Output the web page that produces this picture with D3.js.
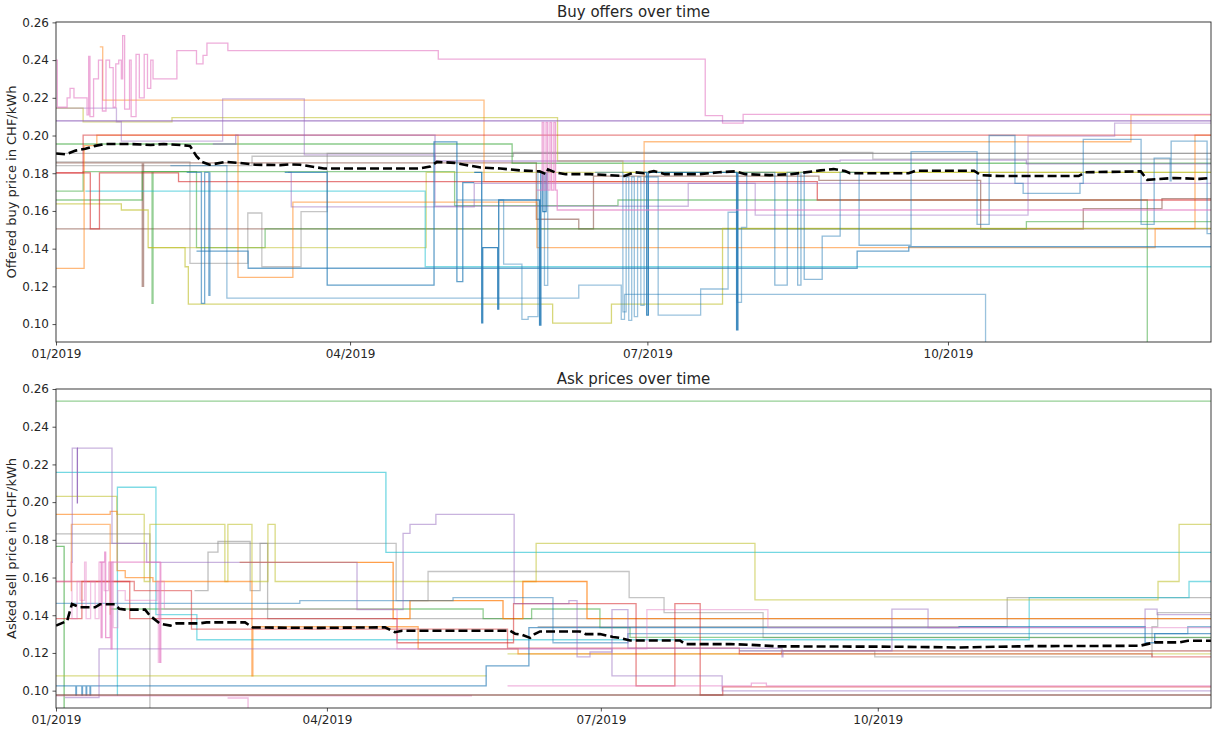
<!DOCTYPE html>
<html>
<head>
<meta charset="utf-8">
<script src="https://cdn.jsdelivr.net/npm/d3@7"></script>
<style>
  body { margin: 0; background: #fff; }
  text { font-family: "DejaVu Sans", sans-serif; fill: #262626; }
</style>
</head>
<body>
<svg id="chart" width="1212" height="732"></svg>
<script>
// ---- data: each series is a list of [days since 2019-01-01, price CHF/kWh] step changes ----
// a trailing null value means the offer ends there; otherwise it holds until the end of the period

// Buy offers
const buyPinkA = [[0,0.24],[0.4,0.215],[3.4,0.22],[4.3,0.225],[5.5,0.22],[9.5,0.211],[10,0.242],[10.4,0.21],[11.5,0.23],[13,0.24],[14.2,0.213],[15.3,0.24],[16.4,0.236],[17.5,0.215],[18.3,0.238],[19.2,0.24],[20,0.23],[20.4,0.253],[21,0.214],[22.5,0.24],[23,0.21],[24.5,0.243],[25.5,0.22],[27,0.243],[28,0.225],[29,0.24],[29.7,0.23],[37,0.245],[43,0.238],[45,0.2425],[46.2,0.249],[52.6,0.245],[117,0.2405],[198.7,0.2105],[204,0.2066],[210.3,0.2112]];
const buyPinkB = [[147,0.171],[148.8,0.207],[149.3,0.171],[150,0.207],[150.5,0.171],[151.2,0.207],[151.7,0.171],[152.4,0.207],[152.9,0.171],[153.4,0.1605]];
const buyPurpleA = [[0,0.2078]];
const buyPurpleB = [[0,0.2145],[18.5,0.2073],[20,0.197],[51,0.2194],[76,0.1897],[115,0.1897],[116,0.1625],[193.5,0.1746],[214,0.1578],[297.5,0.1997],[324,0.2066]];
const buyPurpleC = [[48,0.1955],[55,0.2002],[116,0.1865],[240,0.187],[297,0.185]];
const buyPurpleD = [[71,0.1805],[72,0.1622],[128,0.1746],[193.5,0.1746]];
const buyRedA = [[0,0.1802],[8.3,0.2002]];
const buyRedB = [[0,0.1802],[10.5,0.1505],[13.3,0.1802],[37.5,0.1755],[233,0.1658]];
const buyBrownA = [[0,0.1505],[164.5,0.1785],[233.5,0.1762],[283,0.1505],[314.4,0.1612],[338.5,0.1665]];
const buyBrownB = [[0,0.1855],[26.4,0.12],[26.8,0.1855],[147,0.1556],[160,0.1505]];
const buyOrangeA = [[0,0.1295],[8.6,0.1946],[12.5,0.2002],[55.7,0.1248],[72.5,0.1647],[147.2,0.1405],[336.4,0.1506],[348.6,0.2002]];
const buyOrangeB = [[13.4,0.247],[14.3,0.2188],[131,0.1755],[180,0.1967],[329,0.211]];
const buyOliveA = [[0,0.2145],[8.3,0.2072],[35.5,0.2095],[153.5,0.1865],[173.5,0.1805]];
const buyOliveB = [[0,0.1637],[20,0.1605],[28.2,0.1405],[39.5,0.1304],[40.5,0.1106],[152,0.1005],[170,0.1106],[204,0.1508]];
const buyOliveC = [[28.2,0.1405],[113.3,0.1805]];
const buyGreenA = [[0,0.1955],[139.6,0.1853]];
const buyGreenB = [[0,0.1658],[26.4,0.1808],[122,0.1628],[172,0.1658],[334,0.05]];
const buyGreenC = [[0,0.1705],[8.3,0.1808],[29.4,0.111],[29.7,0.1808],[43,0.1405],[64,0.1505],[297,0.1543]];
const buyCyanA = [[9,0.1705],[113,0.1304]];
const buyGrayA = [[0,0.186],[41,0.1322],[58.7,0.1589],[63,0.1304],[75,0.1596],[83,0.1905]];
const buyGrayB = [[0,0.1905]];
const buyGrayC = [[0,0.184],[60,0.189],[140,0.191],[250,0.1875]];
const buyBlueA = [[35,0.184],[52.3,0.1138],[160,0.1207],[173,0.1025],[174,0.1158],[284.5,0.05]];
const buyBlueB = [[70,0.1805],[83,0.1207],[115.7,0.1966],[122.7,0.1225],[124.5,0.175],[128,0.175],[128.1,null]];
const buyBlueC = [[128,0.1805],[130.3,0.1007],[130.6,0.1405],[135.2,0.108],[135.5,0.1658],[148,0.0995],[148.4,0.1805],[149,0.1596],[150,0.1805],[150.1,null]];
const buyBlueD = [[122.7,0.1658],[137,0.1318],[142.6,0.1025],[144.5,0.104],[147.5,0.1805],[149.5,0.1205],[150.5,0.1805],[150.6,null]];
const buyBlueE = [[165,0.1805],[173.5,0.1065],[174.5,0.178],[175.3,0.102],[176.2,0.178],[177,0.104],[178,0.178],[179,0.11],[180,0.178],[184.3,0.1048],[197.3,0.1186],[205.7,0.1593],[208.5,0.1115],[209.8,0.1513],[211.4,0.1805],[211.5,null]];
const buyBlueF = [[178,0.1805],[180.8,0.1048],[181.3,0.1805],[208.3,0.097],[208.7,0.1805],[208.8,null]];
const buyBlueG = [[210,0.1805],[220,0.1207],[223.8,0.1805],[227,0.1207],[228,0.1805],[229,0.1237],[234.5,0.1467],[240,0.1805],[245.8,0.1418],[261.7,0.1915],[281.9,0.1529],[285.6,0.2],[293.5,0.1746],[296,0.1693],[313.4,0.1746],[314.4,0.198],[332.1,0.1529],[336.1,0.188],[341,0.176],[341.3,0.197],[352.3,0.148]];
const buyBlueH = [[43,0.1387],[58.8,0.1296],[245.2,0.1387],[261,0.141]];
const buyBlueI = [[40,0.1805],[44.5,0.111],[45.5,0.1805],[46.8,0.1153],[47.1,0.1805],[47.2,null]];
const buyMean = [[0,0.1905],[3,0.19],[6,0.192],[9,0.193],[12,0.1945],[15,0.1955],[22.6,0.1955],[29,0.195],[33,0.1955],[38,0.195],[41,0.1945],[43,0.189],[44.7,0.186],[47,0.1845],[52,0.186],[56,0.1855],[61,0.1845],[68.6,0.1843],[71.6,0.1847],[74.7,0.1845],[82,0.1825],[111,0.1825],[114.5,0.1835],[116.6,0.186],[122,0.1855],[125,0.1845],[130,0.183],[136,0.1825],[142,0.1815],[148,0.181],[150,0.1795],[150.6,0.182],[152.7,0.1805],[156,0.1795],[163.5,0.1795],[174,0.1785],[177,0.1805],[180,0.18],[183,0.1812],[186.4,0.1795],[197,0.1795],[203,0.1805],[208,0.181],[211,0.1795],[218.5,0.179],[225,0.1795],[234,0.1815],[238,0.1822],[241.5,0.1812],[243,0.18],[261,0.18],[263,0.1813],[281,0.1813],[283,0.179],[289,0.1785],[313,0.1785],[315,0.1805],[332,0.181],[334,0.1765],[342.5,0.1775],[350,0.177],[353.5,0.1775]];

// Ask prices
const askGreenA = [[0,0.2536]];
const askGreenB = [[0,0.1765],[2.7,0.05]];
const askGreenC = [[18,0.1433],[141.9,0.1382],[158,0.1433],[180.7,0.1334],[190.7,0.1283]];
const askCyanA = [[0,0.2158],[109.6,0.1733]];
const askCyanB = [[20.3,0.0977],[20.4,0.2079],[33.2,0.1403],[46.8,0.127],[323.3,0.1493],[376.4,0.1579]];
const askPurpleA = [[5.3,0.168],[5.4,0.2286],[18.6,0.1781],[30.1,0.168],[100,0.143],[115.3,0.1834],[117.6,0.1882],[126.2,0.1935],[152.2,0.1462],[170.4,0.1477],[173.1,0.1179],[177.4,0.1205],[184.7,0.143],[190,0.1225],[241.2,0.1211]];
const askPurpleB = [[7.0,0.2286],[7.1,0.1993],[7.2,null]];
const askPurpleC = [[3,0.0963],[14.3,0.1222],[60,0.1222],[184.7,0.1078],[221.3,0.0999]];
const askPurpleD = [[227,0.1211],[241.2,0.1179],[241.5,0.1211],[277.7,0.1432],[289.7,0.1334],[361.8,0.1432],[365.8,0.1403]];
const askOliveA = [[0,0.2031],[20.2,0.1935],[29.3,0.1579],[31.2,0.1882],[56.1,0.1579],[57.1,0.1882],[65.1,0.1579],[70.4,0.1882],[72.8,0.1579],[159.5,0.1781],[232.2,0.1481],[366.1,0.1579],[373.1,0.1882]];
const askOliveB = [[0,0.1078],[143,0.1078],[143.1,null]];
const askOliveC = [[150,0.1195]];
const askOrangeA = [[0,0.1935],[18,0.1951],[20.3,0.1637],[23,0.16],[32.2,0.1579],[65.1,0.1078],[65.4,0.1339],[120.3,0.1222],[153.5,0.1195],[241,0.1211]];
const askOrangeB = [[4.9,0.1531],[5.1,0.1882],[18,0.1403],[18.2,null]];
const askOrangeC = [[61,0.168],[112,0.1382],[117.6,0.1477],[148.5,0.1382],[155.1,0.1579],[176.4,0.1382]];
const askGrayA = [[0,0.1832],[31.2,0.05]];
const askGrayB = [[0,0.1781],[113,0.1477],[123.6,0.1632],[190.4,0.1493],[202,0.1414],[234.9,0.1281]];
const askGrayC = [[160,0.1339],[316,0.1493]];
const askGrayD = [[227,0.1211],[272,0.1179],[364.1,0.1339],[366,0.1414]];
const askGrayE = [[46,0.1531],[50.5,0.1735],[53.8,0.1791],[64.5,0.1531],[67.8,0.1781],[70.3,0.1382]];
const askBlueA = [[0,0.1463],[81,0.1477],[131.9,0.1493],[165.1,0.1254],[190,0.1302],[359,0.1302],[376,0.1339]];
const askBlueB = [[0,0.1025],[6.6,0.0977],[6.8,0.1025],[8.6,0.0977],[8.8,0.1025],[10,0.0977],[10.2,0.1025],[11.3,0.0977],[11.5,0.1025],[142.9,0.1131],[157.1,0.1334],[227,0.1334],[300,0.1339],[361.8,0.1254],[365,0.1302]];
const askBrownA = [[0,0.0977]];
const askPinkA = [[0,0.0972],[138.2,0.0972],[138.3,null]];
const askPinkB = [[0,0.1579],[5,0.1682],[5.3,0.1382],[7,0.1579],[8,0.1479],[9.5,0.1682],[10,0.1382],[11.5,0.1579],[13,0.1382],[14.3,0.1682],[16,0.1531],[17.5,0.1682],[19,0.1334],[20.5,0.1531],[23,0.1479],[33.5,0.1579],[34,0.115],[34.3,0.1579],[36,0.1432],[60,0.1432],[113.3,0.1222],[138,0.1222],[196.3,0.143],[236.5,0.1334],[375.1,0.1334]];
const askPinkC = [[14.5,0.1682],[15,0.1281],[15.3,0.1682],[16.2,0.1735],[16.5,0.1281],[18,0.1682],[18.3,0.1222],[18.6,0.1682],[34.5,0.1682],[34.6,0.115],[34.8,0.1682],[35,null]];
const askPinkD = [[57,0.0961],[63.8,0.05]];
const askPinkE = [[150,0.1025],[231,0.104],[236,0.1025]];
const askRedA = [[0,0.1382],[8.6,0.1579],[24.5,0.1382],[113.3,0.1254],[152,0.1462],[192.7,0.1025],[205.6,0.1462],[214,0.0977],[221.5,0.102]];
const askRedB = [[0,0.1579],[26,0.1531],[45,0.1326],[113,0.1326],[150,0.1226],[227,0.1195],[364.1,0.1179]];
const askMean = [[0,0.1345],[3.7,0.137],[5.3,0.146],[8,0.1442],[13,0.1442],[14.6,0.1458],[19.6,0.1458],[21,0.1434],[23,0.143],[29.6,0.143],[31.2,0.1398],[34.6,0.1355],[38,0.1345],[40,0.1357],[47.8,0.1357],[50,0.1362],[62.8,0.1362],[65.4,0.1335],[87.7,0.1333],[109.3,0.1336],[112.6,0.131],[115,0.1318],[150.8,0.1318],[152.5,0.1302],[154.8,0.1296],[157.5,0.128],[159,0.13],[160.8,0.1314],[174,0.1314],[176,0.13],[180.7,0.13],[185,0.1285],[187.4,0.128],[190.7,0.1266],[207.3,0.1266],[209,0.1247],[224,0.1247],[230.6,0.1243],[240,0.1235],[280,0.1233],[300,0.1229],[323.6,0.1236],[360,0.1238],[365,0.1256],[373.4,0.1256],[376,0.1265],[383.7,0.1265]];

// axis ticks
const yTickValues = [0.10, 0.12, 0.14, 0.16, 0.18, 0.20, 0.22, 0.24, 0.26];
const xTickDates = [Date.UTC(2019,0,1), Date.UTC(2019,3,1), Date.UTC(2019,6,1), Date.UTC(2019,9,1)];

// ---- drawing ----
const tab10 = d3.schemeCategory10;
const C = { blue:0, orange:1, green:2, red:3, purple:4, brown:5, pink:6, gray:7, olive:8, cyan:9 };
const startMs = Date.UTC(2019, 0, 1);
const toDate = d => new Date(startMs + d * 864e5);

const buySeries = [
  [buyGrayC, C.gray, 0.45], [buyGrayB, C.gray, 0.5], [buyGrayA, C.gray, 0.45],
  [buyBrownA, C.brown, 0.6], [buyBrownB, C.brown, 0.6],
  [buyGreenA, C.green, 0.55], [buyGreenB, C.green, 0.5], [buyGreenC, C.green, 0.5],
  [buyOliveA, C.olive, 0.55], [buyOliveB, C.olive, 0.6], [buyOliveC, C.olive, 0.5],
  [buyCyanA, C.cyan, 0.55],
  [buyOrangeA, C.orange, 0.55], [buyOrangeB, C.orange, 0.5],
  [buyRedA, C.red, 0.55], [buyRedB, C.red, 0.6],
  [buyPurpleB, C.purple, 0.45], [buyPurpleC, C.purple, 0.55], [buyPurpleD, C.purple, 0.5],
  [buyBlueA, C.blue, 0.45], [buyBlueB, C.blue, 0.7], [buyBlueD, C.blue, 0.45],
  [buyBlueE, C.blue, 0.45], [buyBlueG, C.blue, 0.5], [buyBlueH, C.blue, 0.65], [buyBlueI, C.blue, 0.6],
  [buyBlueC, C.blue, 0.85], [buyBlueF, C.blue, 0.85],
  [buyPinkB, C.pink, 0.65], [buyPinkA, C.pink, 0.6],
  [buyPurpleA, C.purple, 0.8]
];

const askSeries = [
  [askGrayA, C.gray, 0.5], [askGrayB, C.gray, 0.45], [askGrayC, C.gray, 0.5], [askGrayD, C.gray, 0.45], [askGrayE, C.gray, 0.5],
  [askGreenA, C.green, 0.5], [askGreenB, C.green, 0.6], [askGreenC, C.green, 0.5],
  [askCyanA, C.cyan, 0.6], [askCyanB, C.cyan, 0.55],
  [askOliveA, C.olive, 0.55], [askOliveB, C.olive, 0.55], [askOliveC, C.olive, 0.5],
  [askOrangeA, C.orange, 0.6], [askOrangeB, C.orange, 0.5], [askOrangeC, C.orange, 0.75],
  [askRedA, C.red, 0.55], [askRedB, C.red, 0.5],
  [askBlueA, C.blue, 0.5], [askBlueB, C.blue, 0.65],
  [askPurpleA, C.purple, 0.5], [askPurpleC, C.purple, 0.5], [askPurpleD, C.purple, 0.5],
  [askPinkA, C.pink, 0.5], [askPinkB, C.pink, 0.45], [askPinkC, C.pink, 0.7], [askPinkD, C.pink, 0.5], [askPinkE, C.pink, 0.55],
  [askBrownA, C.brown, 0.8], [askPurpleB, C.purple, 0.9]
];

const svg = d3.select("#chart");

function drawPanel(cfg) {
  const x = d3.scaleUtc().domain([toDate(0), toDate(cfg.dEnd)]).range([cfg.left, cfg.right]);
  const y = d3.scaleLinear().domain([cfg.vMin, cfg.vMax]).range([cfg.bottom, cfg.top]);
  const g = svg.append("g");

  const clipId = "clip-" + cfg.id;
  svg.append("clipPath").attr("id", clipId).append("rect")
    .attr("x", cfg.left).attr("y", cfg.top)
    .attr("width", cfg.right - cfg.left).attr("height", cfg.bottom - cfg.top);

  const plot = g.append("g").attr("clip-path", `url(#${clipId})`);

  const step = d3.line()
    .defined(p => p[1] != null)
    .x(p => x(toDate(p[0])))
    .y(p => y(p[1]))
    .curve(d3.curveStepAfter);

  cfg.series.forEach(([pts, ci, op]) => {
    const full = pts.slice();
    const last = full[full.length - 1];
    if (last[1] != null) full.push([cfg.dEnd, last[1]]);
    plot.append("path")
      .attr("d", step(full))
      .attr("fill", "none")
      .attr("stroke", tab10[ci])
      .attr("stroke-opacity", op)
      .attr("stroke-width", 1.3);
  });

  const meanLine = d3.line().x(p => x(toDate(p[0]))).y(p => y(p[1]));
  plot.append("path")
    .attr("d", meanLine(cfg.mean))
    .attr("fill", "none")
    .attr("stroke", "#000")
    .attr("stroke-width", 2.6)
    .attr("stroke-dasharray", "9,4");

  // axes
  const yAxis = d3.axisLeft(y).tickValues(yTickValues).tickFormat(d3.format(".2f")).tickSizeOuter(0).tickSize(3.5).tickPadding(3.5);
  const xAxis = d3.axisBottom(x).tickValues(xTickDates.map(t => new Date(t))).tickFormat(d3.utcFormat("%m/%Y")).tickSizeOuter(0).tickSize(3.5).tickPadding(3.5);

  const ya = g.append("g").attr("transform", `translate(${cfg.left},0)`).call(yAxis);
  const xa = g.append("g").attr("transform", `translate(0,${cfg.bottom})`).call(xAxis);
  [ya, xa].forEach(a => {
    a.select(".domain").remove();
    a.selectAll("line").attr("stroke", "#262626").attr("stroke-width", 0.8);
    a.selectAll("text").attr("font-size", 12).attr("fill", "#262626").style("font-family", '"DejaVu Sans", sans-serif');
  });

  g.append("rect")
    .attr("x", cfg.left).attr("y", cfg.top)
    .attr("width", cfg.right - cfg.left).attr("height", cfg.bottom - cfg.top)
    .attr("fill", "none").attr("stroke", "#262626").attr("stroke-width", 0.9);

  g.append("text")
    .attr("x", (cfg.left + cfg.right) / 2).attr("y", cfg.top - 5)
    .attr("text-anchor", "middle").attr("font-size", 15)
    .text(cfg.title);

  g.append("text")
    .attr("transform", `translate(16,${(cfg.top + cfg.bottom) / 2}) rotate(-90)`)
    .attr("text-anchor", "middle").attr("font-size", 13)
    .text(cfg.ylabel);
}

drawPanel({
  id: "buy", title: "Buy offers over time", ylabel: "Offered buy price in CHF/kWh",
  left: 56, right: 1211, top: 22, bottom: 342,
  dEnd: 353.5, vMin: 0.0905, vMax: 0.2602,
  series: buySeries, mean: buyMean
});

drawPanel({
  id: "ask", title: "Ask prices over time", ylabel: "Asked sell price in CHF/kWh",
  left: 56, right: 1211, top: 389, bottom: 708,
  dEnd: 383.7, vMin: 0.0908, vMax: 0.26,
  series: askSeries, mean: askMean
});
</script>
</body>
</html>
